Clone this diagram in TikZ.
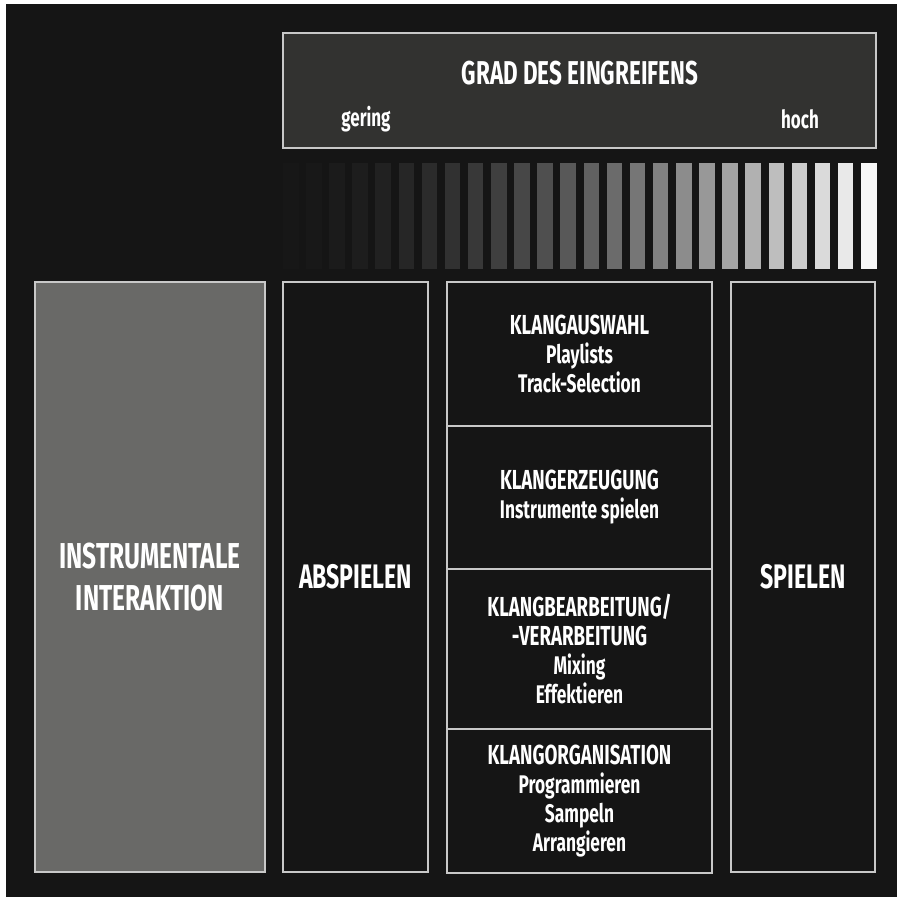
\documentclass[tikz,border=0pt]{standalone}
\usepackage{fontspec}
\setmainfont{Fira Sans}[FakeStretch=0.68]
\usepackage{tikz}
\usetikzlibrary{positioning}
\definecolor{bgdark}{HTML}{151515}
\definecolor{headgray}{HTML}{323230}
\definecolor{instrgray}{HTML}{696967}
\definecolor{framegray}{HTML}{C8C8C8}
\newcommand\titlefont{\bfseries\fontsize{33}{36}\selectfont}
\newcommand\bigfont{\bfseries\fontsize{36}{42}\selectfont}
\newcommand\headfont{\bfseries\fontsize{27.5}{29}\selectfont}
\newcommand\itemfont{\fontsize{25.5}{29}\selectfont}
\tikzstyle{panel}=[draw=framegray,line width=1.2pt,fill=bgdark,inner sep=0pt,outer sep=0pt,text=white,align=center]
\tikzstyle{column}=[panel,minimum height=590pt]
\tikzstyle{cell}=[panel,minimum width=265pt,font=\headfont]
\tikzstyle{scale label}=[text=white,font=\bfseries\fontsize{25}{28}\selectfont]

\begin{document}
\begin{tikzpicture}[x=1pt,y=-1pt]
	% page and dark background
	\fill[white] (0,0) rectangle (897,897);
	\fill[bgdark] (6,4) rectangle (897,897);
	% header with scale
	\node[panel,fill=headgray,minimum width=593pt,minimum height=115pt] (grad) at (579.5,90.5) {};
	\node[text=white,font=\titlefont] (gradtitle) at (580,73) {GRAD DES EINGREIFENS};
	\node[scale label] (gering) at (366,119) {gering};
	\node[scale label] (hoch) at (800,119) {hoch};
	% grey ramp
	\foreach \i in {0,...,25}{
		\pgfmathsetmacro\lvl{1+96*((\i+0.001)/25.001)^1.7}
		\fill[white!\lvl!bgdark] ({283+23.12*\i},163) rectangle +(15.5,106);
	}
	% columns
	\node[column,fill=instrgray,minimum width=230pt,font=\bigfont] (instr) at (150,577) {INSTRUMENTALE\\INTERAKTION};
	\node[column,minimum width=145pt,font=\bfseries\fontsize{34}{38}\selectfont] (abspielen) at (355.5,577) {ABSPIELEN};
	\node[column,minimum width=144pt,font=\bfseries\fontsize{34}{38}\selectfont] (spielen) at (803,577) {SPIELEN};
	% sound cells
	\node[cell,minimum height=144pt,anchor=north] (auswahl) at (579.5,282) {KLANGAUSWAHL\\{\itemfont Playlists}\\{\itemfont Track-Selection}};
	\node[cell,minimum height=143pt,below=0pt of auswahl] (erzeugung) {KLANGERZEUGUNG\\{\itemfont Instrumente spielen}};
	\node[cell,minimum height=160pt,below=0pt of erzeugung] (bearbeitung) {KLANGBEARBEITUNG/\\-VERARBEITUNG\\{\itemfont Mixing}\\{\itemfont Effektieren}};
	\node[cell,minimum height=144pt,below=0pt of bearbeitung] (organisation) {KLANGORGANISATION\\{\itemfont Programmieren}\\{\itemfont Sampeln}\\{\itemfont Arrangieren}};
\end{tikzpicture}
\end{document}
